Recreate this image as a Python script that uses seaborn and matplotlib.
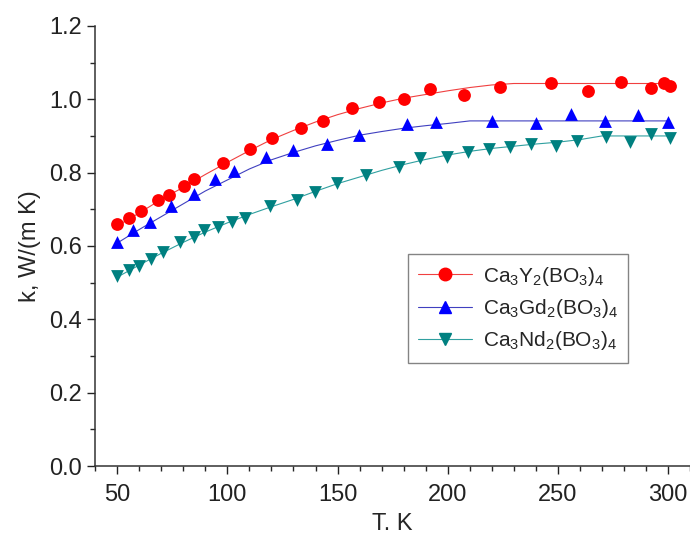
import matplotlib
matplotlib.use('Agg')
import matplotlib.pyplot as plt
import seaborn as sns
import pandas as pd
from matplotlib.lines import Line2D
from matplotlib.ticker import MultipleLocator

# measured points
t_y = [50.1, 55.5, 60.8, 68.6, 73.5, 80.3, 84.9, 98.0, 110.3, 120.3, 133.5, 143.5,
       156.7, 169.0, 180.1, 192.0, 207.6, 223.8, 247.1, 263.6, 278.6, 292.1, 298.0, 300.8]
k_y = [0.659, 0.675, 0.695, 0.725, 0.739, 0.763, 0.783, 0.827, 0.864, 0.894, 0.921, 0.941,
       0.975, 0.992, 1.001, 1.027, 1.012, 1.034, 1.043, 1.023, 1.047, 1.032, 1.045, 1.036]

t_gd = [50.1, 57.0, 65.0, 74.2, 84.7, 94.2, 103.2, 117.7, 130.0, 145.0, 159.9,
        181.7, 194.9, 220.0, 240.0, 255.9, 271.4, 286.4, 300.1]
k_gd = [0.610, 0.644, 0.666, 0.709, 0.743, 0.782, 0.804, 0.842, 0.861, 0.878, 0.903,
        0.933, 0.937, 0.941, 0.935, 0.959, 0.942, 0.957, 0.939]

t_nd = [50.1, 55.5, 60.0, 65.1, 70.8, 78.3, 84.9, 89.2, 95.6, 102.1, 108.2, 119.5,
        131.7, 139.9, 149.9, 162.9, 177.9, 187.4, 199.9, 209.2, 218.8, 228.5, 237.9,
        249.1, 258.9, 272.0, 282.9, 292.1, 300.8]
k_nd = [0.518, 0.535, 0.545, 0.565, 0.584, 0.611, 0.625, 0.644, 0.653, 0.665, 0.677, 0.709,
        0.725, 0.747, 0.773, 0.794, 0.816, 0.839, 0.842, 0.857, 0.864, 0.871, 0.877,
        0.873, 0.887, 0.898, 0.884, 0.905, 0.895]

# fitted curves
fit_t = [50, 60, 70, 80, 90, 100, 110, 120, 130, 140, 150, 160, 170, 180, 190, 200,
         210, 220, 230, 240, 250, 260, 270, 300]
fit_y = [0.655, 0.690, 0.727, 0.760, 0.795, 0.828, 0.860, 0.890, 0.915, 0.938, 0.958, 0.975,
         0.990, 1.003, 1.013, 1.023, 1.032, 1.039, 1.043, 1.043, 1.043, 1.043, 1.043, 1.043]
fit_gd = [0.608, 0.645, 0.680, 0.715, 0.750, 0.780, 0.810, 0.835, 0.855, 0.873, 0.888, 0.902,
          0.912, 0.921, 0.928, 0.934, 0.941, 0.941, 0.941, 0.941, 0.941, 0.941, 0.941, 0.941]
fit_nd = [0.515, 0.548, 0.580, 0.610, 0.638, 0.663, 0.686, 0.707, 0.727, 0.749, 0.770, 0.788,
          0.806, 0.822, 0.836, 0.848, 0.858, 0.866, 0.872, 0.878, 0.883, 0.890, 0.900, 0.900]

labels = [r'Ca$_3$Y$_2$(BO$_3$)$_4$', r'Ca$_3$Gd$_2$(BO$_3$)$_4$', r'Ca$_3$Nd$_2$(BO$_3$)$_4$']
colors = ['#ff0000', '#0000ff', '#008080']
line_colors = ['#f04040', '#4040c0', '#30a0a0']
markers = ['o', '^', 'v']

sns.set_style('ticks')
plt.rcParams['font.family'] = ['Liberation Sans', 'DejaVu Sans']
plt.rcParams['mathtext.fontset'] = 'custom'
plt.rcParams['mathtext.rm'] = 'Liberation Sans'
plt.rcParams['mathtext.it'] = 'Liberation Sans'

fig = plt.figure(figsize=(6.9, 5.4), dpi=100)
ax = fig.add_axes([0.138, 0.137, 0.862, 0.815])

series = [(t_y, k_y, fit_y), (t_gd, k_gd, fit_gd), (t_nd, k_nd, fit_nd)]
handles = []
for (t, k, fit), lab, c, lc, m in zip(series, labels, colors, line_colors, markers):
    sns.lineplot(x=fit_t, y=fit, ax=ax, color=lc, linewidth=0.8, legend=False)
    sns.scatterplot(x=t, y=k, ax=ax, color=c, marker=m, s=85, edgecolor=c, linewidth=0, zorder=3)
    handles.append(Line2D([], [], color=lc, linewidth=0.8, marker=m, markersize=9,
                          markerfacecolor=c, markeredgecolor=c, label=lab))

ax.set_xlim(40, 310)
ax.set_ylim(0, 1.2)
ax.xaxis.set_major_locator(MultipleLocator(50))
ax.xaxis.set_minor_locator(MultipleLocator(10))
ax.yaxis.set_major_locator(MultipleLocator(0.2))
ax.yaxis.set_minor_locator(MultipleLocator(0.1))
ax.yaxis.set_major_formatter(plt.FormatStrFormatter('%.1f'))
ax.tick_params(which='major', direction='out', length=6, width=1, labelsize=17, colors='#222222')
ax.tick_params(axis='x', which='major', pad=7)
ax.tick_params(which='minor', direction='out', length=3.5, width=1)
sns.despine(ax=ax)
for s in ['left', 'bottom']:
    ax.spines[s].set_linewidth(1.1)
    ax.spines[s].set_color('#333333')

ax.set_xlabel('T. K', fontsize=17, labelpad=5)
ax.set_ylabel('k, W/(m K)', fontsize=17, labelpad=6)

leg = ax.legend(handles=handles, loc='upper left', bbox_to_anchor=(0.508, 0.505),
                fontsize=15, frameon=True, fancybox=False, edgecolor='#666666',
                handlelength=2.6, borderpad=0.5, labelspacing=0.45, handletextpad=0.5)
leg.get_frame().set_linewidth(1)

fig.savefig('out.png', dpi=100)
